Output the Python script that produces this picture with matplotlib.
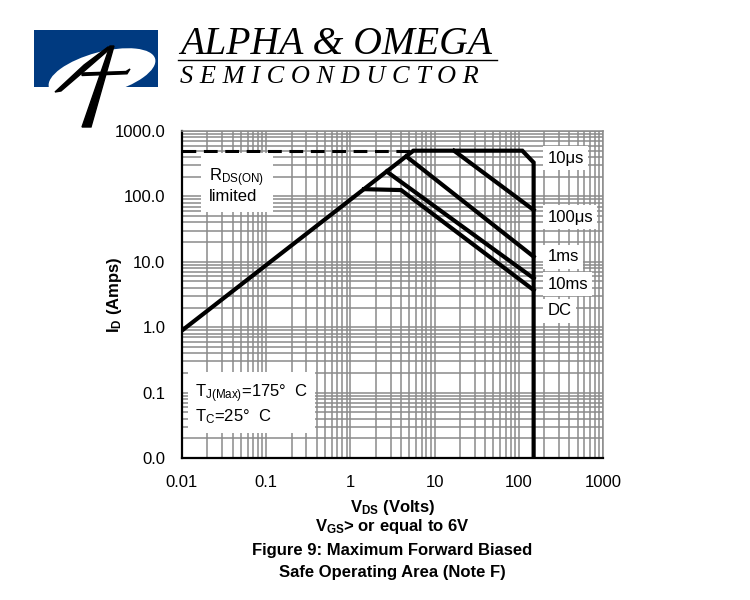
import matplotlib
matplotlib.use('Agg')
import matplotlib.pyplot as plt
from matplotlib.patches import Rectangle, Ellipse, Polygon
from matplotlib.ticker import FixedLocator, LogLocator, NullFormatter

plt.rcParams['font.family'] = ['Liberation Sans', 'DejaVu Sans']
plt.rcParams['mathtext.fontset'] = 'custom'
plt.rcParams['mathtext.rm'] = 'Liberation Sans'
plt.rcParams['mathtext.it'] = 'Liberation Sans:italic'
plt.rcParams['mathtext.bf'] = 'Liberation Sans:bold'

# SOA curves (V_DS in volts, I_D in amps)
v_10us = [0.01, 5.6, 110, 150, 150]
i_10us = [0.89, 500, 500, 330, 0.01]
v_100us = [17, 150]
i_100us = [500, 62]
v_1ms = [4.6, 150]
i_1ms = [410, 12]
v_10ms = [2.7, 150]
i_10ms = [240, 5.6]
v_dc = [1.45, 4.0, 150]
i_dc = [129, 125, 3.7]
# package limit (dashed)
v_pkg = [0.01, 5.2]
i_pkg = [500, 500]

curve_labels = ['10μs', '100μs', '1ms', '10ms', 'DC']

x_ticks = [0.01, 0.1, 1, 10, 100, 1000]
x_ticklabels = ['0.01', '0.1', '1', '10', '100', '1000']
y_ticks = [0.01, 0.1, 1, 10, 100, 1000]
y_ticklabels = ['0.0', '0.1', '1.0', '10.0', '100.0', '1000.0']

fig = plt.figure(figsize=(7.5, 6), dpi=100)

# logo drawn in pixel coordinates on a background axes
bg = fig.add_axes([0, 0, 1, 1], zorder=-1)
bg.set_xlim(0, 750)
bg.set_ylim(600, 0)
bg.axis('off')
box = Rectangle((34, 30), 124, 57, facecolor='#003a80', edgecolor='none')
bg.add_patch(box)
ell = Ellipse((102, 73), 110, 42, angle=-15, facecolor='white', edgecolor='none')
bg.add_patch(ell)
ell.set_clip_path(box)
# stylised "A" mark
bg.add_patch(Polygon([(110, 46), (114, 46), (91, 127), (82, 127)], closed=True, color='black'))
bg.add_patch(Polygon([(55, 92), (61, 91), (89, 67), (112, 47), (108, 47), (84, 65)],
                     closed=True, color='black'))
bg.add_patch(Polygon([(82, 73), (126, 71.5), (130, 69), (127, 73.8), (82, 75.5)],
                     closed=True, color='black'))
bg.text(180, 54, 'ALPHA & OMEGA', family='Liberation Serif', style='italic',
        fontsize=28.5, ha='left', va='baseline')
bg.plot([178, 497], [60, 60], color='black', lw=1)
bg.text(180, 83, 'S E M I C O N D U C T O R', family='Liberation Serif', style='italic',
        fontsize=19, ha='left', va='baseline')

ax = fig.add_axes([182 / 750, 1 - 458 / 600, (603 - 182) / 750, (458 - 131) / 600])
ax.set_xscale('log')
ax.set_yscale('log')
ax.set_xlim(0.01, 1000)
ax.set_ylim(0.01, 1000)

ax.xaxis.set_major_locator(FixedLocator(x_ticks))
ax.set_xticklabels(x_ticklabels)
ax.yaxis.set_major_locator(FixedLocator(y_ticks))
ax.set_yticklabels(y_ticklabels)
ax.xaxis.set_minor_locator(LogLocator(base=10, subs=range(2, 10), numticks=20))
ax.yaxis.set_minor_locator(LogLocator(base=10, subs=range(2, 10), numticks=20))
ax.xaxis.set_minor_formatter(NullFormatter())
ax.yaxis.set_minor_formatter(NullFormatter())
ax.tick_params(which='both', length=0, labelsize=12)
ax.tick_params(axis='y', pad=12)
ax.tick_params(axis='x', pad=12)

ax.grid(which='both', color='#8a8a8a', lw=1.1)
ax.set_axisbelow(True)
for s in ['top', 'right']:
    ax.spines[s].set_color('#8a8a8a')
    ax.spines[s].set_linewidth(1.1)
for s in ['left', 'bottom']:
    ax.spines[s].set_linewidth(1.6)

ax.plot(v_pkg, i_pkg, color='black', lw=2.2, ls=(0, (4.5, 2.5)))
for v, i in [(v_10us, i_10us), (v_100us, i_100us), (v_1ms, i_1ms),
             (v_10ms, i_10ms), (v_dc, i_dc)]:
    ax.plot(v, i, color='black', lw=3, solid_joinstyle='miter')

label_y = [0.917, 0.737, 0.615, 0.532, 0.45]
for lab, yy in zip(curve_labels, label_y):
    ax.text(0.868, yy, lab, transform=ax.transAxes, fontsize=12, ha='left', va='center',
            bbox=dict(facecolor='white', edgecolor='none', pad=3))

ax.text(0.065, 0.835, 'R$_{\\rm DS(ON)}$\nlimited', transform=ax.transAxes, fontsize=12,
        ha='left', va='center', linespacing=1.0,
        bbox=dict(facecolor='white', edgecolor='none', pad=6))
ax.text(0.03, 0.165, 'T$_{\\rm J(Max)}$=175°  C\nT$_{\\rm C}$=25°  C', transform=ax.transAxes,
        fontsize=12, ha='left', va='center', linespacing=1.15,
        bbox=dict(facecolor='white', edgecolor='none', pad=5))

ax.set_ylabel('I$_{\\mathbf{D}}$ (Amps)', fontsize=12, fontweight='bold')
ax.yaxis.set_label_coords(-0.138, 0.5)
ax.set_xlabel('V$_{\\mathbf{DS}}$ (Volts)', fontsize=12, fontweight='bold', labelpad=6)

cx = (182 + 603) / 2 / 750
fig.text(cx, 1 - 527 / 600, 'V$_{\\mathbf{GS}}$> or equal to 6V', fontsize=12,
         fontweight='bold', ha='center', va='center')
fig.text(cx, 1 - 550 / 600, 'Figure 9: Maximum Forward Biased', fontsize=12,
         fontweight='bold', ha='center', va='center')
fig.text(cx, 1 - 572 / 600, 'Safe Operating Area (Note F)', fontsize=12,
         fontweight='bold', ha='center', va='center')

fig.savefig('out.png', dpi=100)
